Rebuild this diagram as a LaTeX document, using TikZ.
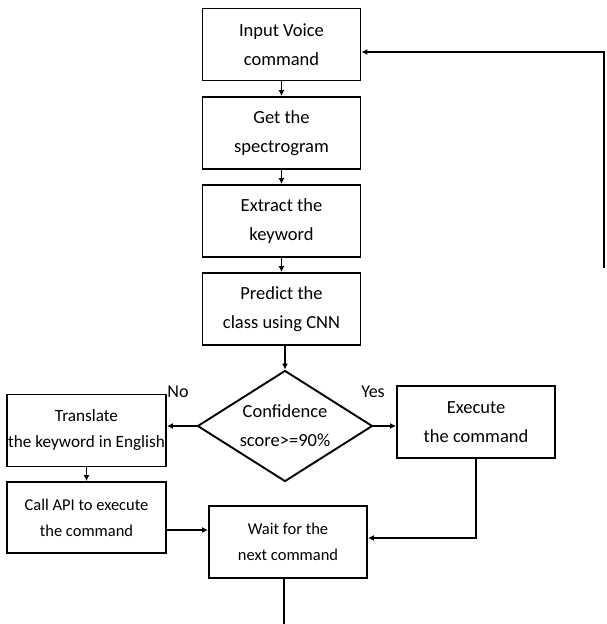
\documentclass[tikz,border=0pt]{standalone}
\usepackage{fontspec}
\setmainfont{Carlito}
\usetikzlibrary{shapes.geometric,arrows.meta}
\tikzset{
  stepbox/.style={draw,line width=1.9pt,minimum width=158pt,minimum height=72pt,
    inner sep=0pt,align=center,font=\fontsize{18.5}{29}\selectfont},
  smallbox/.style={stepbox,font=\fontsize{16.5}{26}\selectfont},
  decision/.style={draw,diamond,line width=1.9pt,aspect=1.58,minimum width=175pt,
    minimum height=111pt,inner sep=0pt,align=center,font=\fontsize{18.5}{29}\selectfont},
  flow/.style={line width=1.5pt,-{Latex[length=6pt,width=6pt]}},
  answer/.style={font=\fontsize{18}{20}\selectfont}
}
\begin{document}
\begin{tikzpicture}[x=1pt,y=-1pt]
  \useasboundingbox (0,0) rectangle (606,624);
  \node[stepbox] (input) at (281.5,44.5) {Input Voice\\command};
  \node[stepbox] (spec) at (281.5,133) {Get the\\spectrogram};
  \node[stepbox] (extract) at (281.5,221) {Extract the\\keyword};
  \node[stepbox] (predict) at (281.5,309) {Predict the\\class using CNN};
  \node[decision] (conf) at (285,426) {Confidence\\score>=90\%};
  \node[smallbox,minimum width=159pt,font=\fontsize{17.2}{26}\selectfont] (trans) at (86.5,430.5) {Translate\\the keyword in English};
  \node[smallbox,minimum width=159pt,minimum height=71pt] (api) at (86.5,517.5) {Call API to execute\\the command};
  \node[stepbox] (exec) at (476,422) {Execute\\the command};
  \node[smallbox] (wait) at (288,542) {Wait for the\\next command};
  \node[answer] (no) at (178,392) {No};
  \node[answer] (yes) at (373,392) {Yes};
  \coordinate (loopbot) at (604,268);
  \coordinate (looptop) at (604,52);
  \coordinate (waitend) at (284,624);
  \draw[flow] (input) -- (spec);
  \draw[flow] (spec) -- (extract);
  \draw[flow] (extract) -- (predict);
  \draw[flow] (predict.south -| conf.north) -- (conf.north);
  \draw[flow] (conf.west) -- (conf.west -| trans.east);
  \draw[flow] (conf.east) -- (conf.east -| exec.west);
  \draw[flow] (trans) -- (api);
  \draw[flow] ([yshift=-12.5pt]api.east) -- ([yshift=-12.5pt]api.east -| wait.west);
  \draw[flow] (exec.south) |- ([yshift=4pt]wait.east);
  \draw[line width=1.5pt] (wait.south -| waitend) -- (waitend);
  \draw[flow] (loopbot) -- (looptop) -- (looptop -| input.east);
\end{tikzpicture}
\end{document}
